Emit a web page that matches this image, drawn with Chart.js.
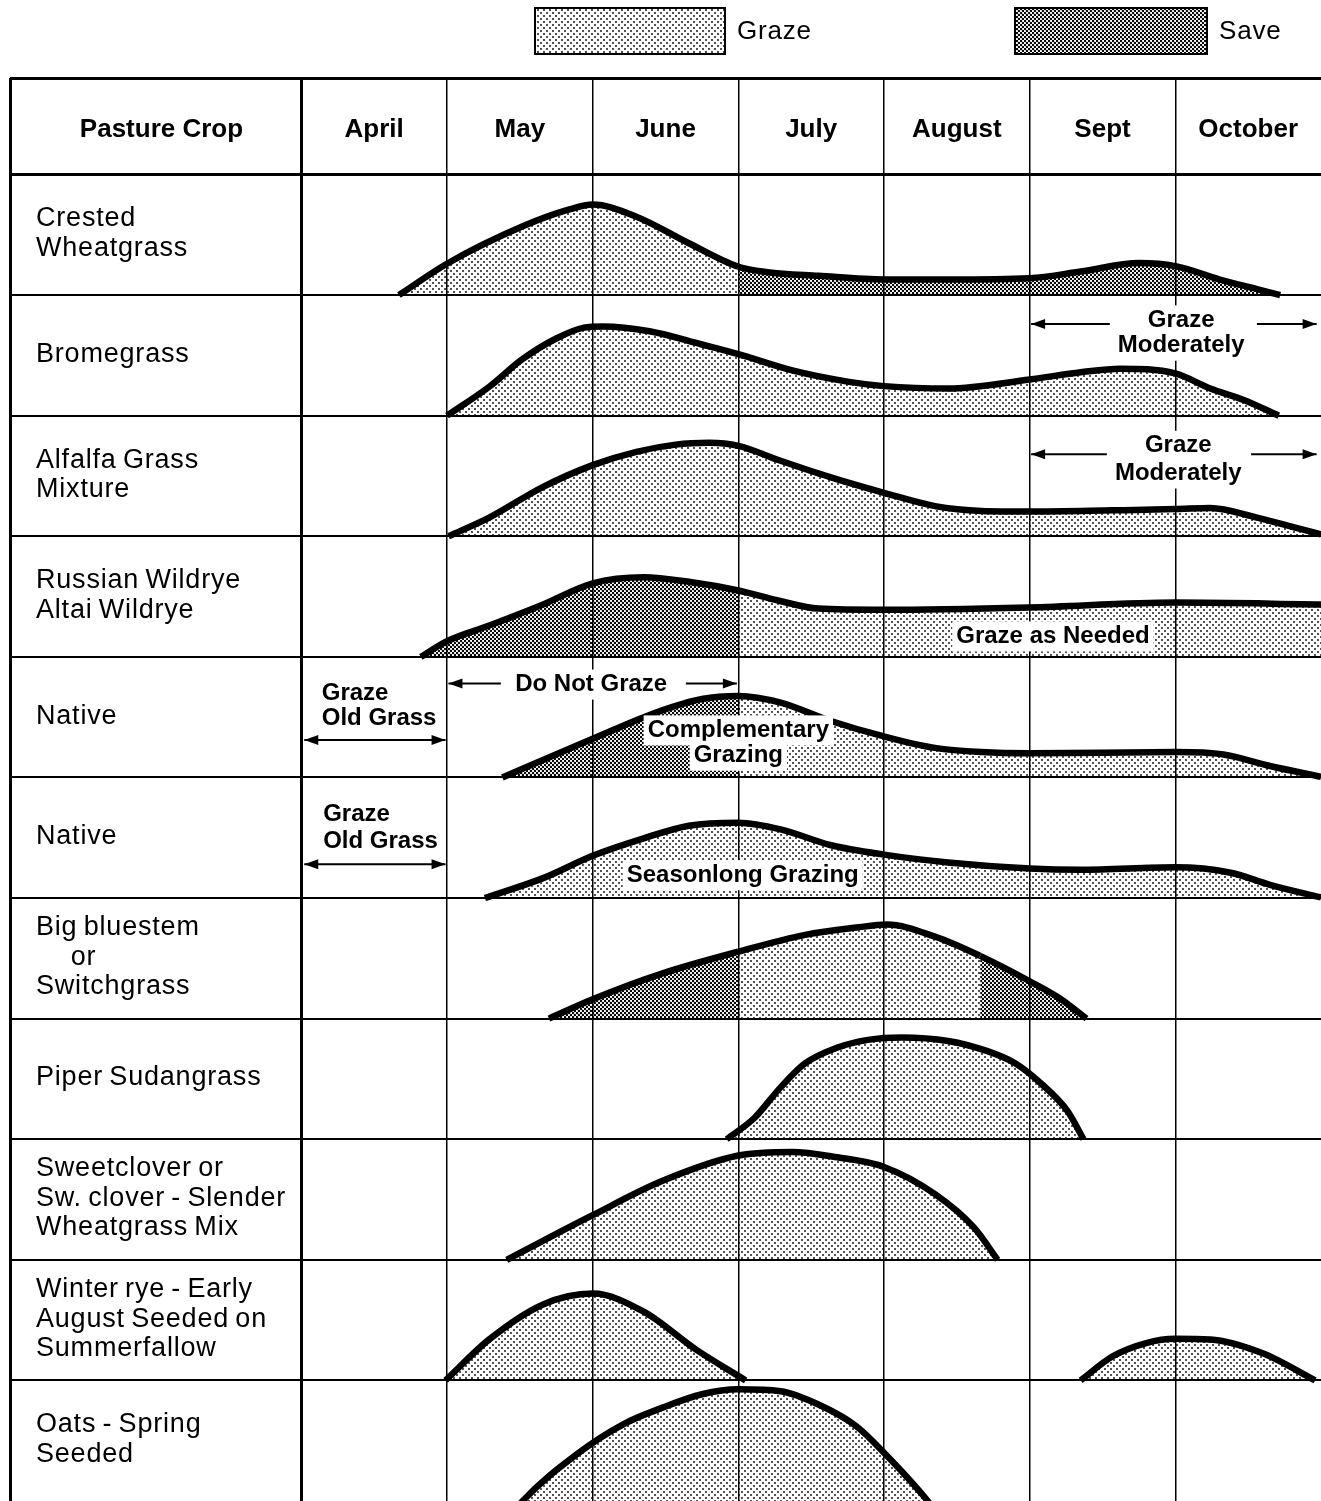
<!DOCTYPE html>
<html>
<head>
<meta charset="utf-8">
<script src="https://cdn.jsdelivr.net/npm/chart.js@4.4.0/dist/chart.umd.min.js"></script>
<style>
  html, body { margin: 0; padding: 0; background: #fff; }
  #wrap { width: 1321px; height: 1501px; }
</style>
</head>
<body>
<div id="wrap"><canvas id="grazingChart" width="1321" height="1501"></canvas></div>
<script>
const months = ["April", "May", "June", "July", "August", "Sept", "October"];

const cropNames = [
  ["Crested", "Wheatgrass"],
  ["Bromegrass"],
  ["Alfalfa Grass", "Mixture"],
  ["Russian Wildrye", "Altai Wildrye"],
  ["Native"],
  ["Native"],
  ["Big bluestem", "\u2002\u2002\u2009or", "Switchgrass"],
  ["Piper Sudangrass"],
  ["Sweetclover or", "Sw. clover - Slender", "Wheatgrass Mix"],
  ["Winter rye - Early", "August Seeded on", "Summerfallow"],
  ["Oats - Spring", "Seeded"],
];

// [month position (0 = start of April), height in row units]
const crested = [[0.67, 0], [1.0, 0.26], [1.52, 0.57], [1.84, 0.71], [2.0, 0.75], [2.3, 0.65], [2.66, 0.43], [3.0, 0.235], [3.2, 0.19], [3.55, 0.16], [4.0, 0.13], [4.44, 0.13], [5.0, 0.14], [5.35, 0.195], [5.75, 0.265], [6.0, 0.24], [6.33, 0.12], [6.56, 0.05], [6.72, 0]];
const brome = [[1.0, 0], [1.29, 0.24], [1.52, 0.47], [1.75, 0.64], [1.94, 0.73], [2.07, 0.74], [2.39, 0.7], [2.75, 0.59], [3.0, 0.51], [3.37, 0.375], [3.76, 0.28], [4.0, 0.245], [4.44, 0.225], [5.0, 0.3], [5.35, 0.36], [5.62, 0.39], [6.0, 0.35], [6.24, 0.225], [6.47, 0.13], [6.71, 0]];
const alfalfa = [[1.01, 0], [1.29, 0.155], [1.66, 0.41], [2.0, 0.59], [2.3, 0.7], [2.57, 0.76], [2.8, 0.775], [3.0, 0.75], [3.28, 0.63], [3.63, 0.49], [4.0, 0.36], [4.35, 0.25], [4.67, 0.21], [5.0, 0.205], [5.57, 0.215], [6.0, 0.225], [6.24, 0.235], [6.56, 0.155], [6.83, 0.07], [7.0, 0.015]];
const russian = [[0.82, 0], [1.0, 0.13], [1.29, 0.26], [1.66, 0.435], [2.0, 0.61], [2.35, 0.66], [2.67, 0.62], [3.0, 0.55], [3.28, 0.465], [3.55, 0.4], [4.0, 0.39], [5.0, 0.41], [6.0, 0.45], [7.0, 0.435]];
const nativeComplementary = [[1.38, 0], [2.0, 0.32], [2.44, 0.54], [2.75, 0.65], [3.0, 0.675], [3.29, 0.62], [3.63, 0.47], [4.0, 0.34], [4.35, 0.245], [4.67, 0.21], [5.0, 0.2], [6.0, 0.21], [6.33, 0.19], [6.65, 0.095], [7.0, 0.005]];
const nativeSeasonlong = [[1.26, 0], [1.66, 0.165], [2.0, 0.35], [2.35, 0.495], [2.66, 0.6], [3.0, 0.625], [3.29, 0.57], [3.63, 0.44], [4.0, 0.36], [4.44, 0.295], [5.0, 0.245], [5.35, 0.235], [6.0, 0.255], [6.38, 0.21], [6.65, 0.11], [7.0, 0.005]];
const bigBluestem = [[1.7, 0], [2.0, 0.16], [2.48, 0.375], [3.0, 0.555], [3.46, 0.695], [3.81, 0.755], [4.02, 0.78], [4.35, 0.68], [4.66, 0.52], [5.0, 0.31], [5.21, 0.165], [5.39, 0]];
const piper = [[2.92, 0], [3.11, 0.176], [3.29, 0.43], [3.46, 0.63], [3.68, 0.76], [3.89, 0.824], [4.12, 0.844], [4.44, 0.815], [4.71, 0.73], [4.9, 0.63], [5.08, 0.46], [5.26, 0.233], [5.37, 0]];
const sweetclover = [[1.41, 0], [2.0, 0.37], [2.48, 0.655], [3.0, 0.865], [3.37, 0.895], [3.68, 0.85], [4.0, 0.77], [4.35, 0.545], [4.62, 0.265], [4.78, 0]];
const winterRyeSpring = [[0.99, 0], [1.29, 0.34], [1.66, 0.63], [2.0, 0.72], [2.35, 0.57], [2.71, 0.255], [3.05, 0]];
const winterRyeFall = [[5.35, 0], [5.57, 0.2], [5.8, 0.31], [6.0, 0.345], [6.24, 0.34], [6.6, 0.225], [6.96, 0]];
// oats row runs off the bottom of the page
const oats = [[1.3, -0.35], [1.52, 0], [1.89, 0.387], [2.21, 0.636], [2.48, 0.774], [2.75, 0.885], [3.0, 0.926], [3.29, 0.91], [3.55, 0.8], [3.81, 0.62], [4.0, 0.4], [4.3, 0], [4.45, -0.25]];

// month ranges shaded as "Save"
const crestedSave = [[3.0, 7]];
const russianSave = [[0, 3.0]];
const nativeSave = [[0, 3.0]];
const bluestemSave = [[0, 3.0], [4.66, 7]];

const FONT = '"Liberation Sans", Arial, Helvetica, sans-serif';
const canvas = document.getElementById("grazingChart");
const mainCtx = canvas.getContext("2d");

function makePattern(size, dots, r) {
  const tile = document.createElement("canvas");
  tile.width = size;
  tile.height = size;
  const g = tile.getContext("2d");
  g.fillStyle = "#000";
  dots.forEach(([dx, dy]) => {
    g.beginPath();
    g.arc(dx, dy, r, 0, Math.PI * 2);
    g.fill();
  });
  return mainCtx.createPattern(tile, "repeat");
}

const grazePattern = makePattern(6, [[1, 1], [4, 4]], 0.9);
const savePattern = makePattern(4, [[1, 1], [3, 3]], 1.2);

const rowBase = (r) => cropNames.length - 1 - r;

function segStyle(saveValue, grazeValue) {
  return (c) => {
    const ds = c.chart.data.datasets[c.datasetIndex];
    const mid = (ds.data[c.p0DataIndex].x + ds.data[c.p1DataIndex].x) / 2;
    return ds.saveSpans.some(([a, b]) => mid > a && mid < b) ? saveValue : grazeValue;
  };
}

function curve(points, row, saveSpans) {
  const base = rowBase(row);
  return {
    data: points.map(([m, h]) => ({ x: m, y: base + h })),
    saveSpans: saveSpans || [],
    fill: { value: base },
    backgroundColor: grazePattern,
    borderColor: "#000",
    borderWidth: 6.5,
    borderJoinStyle: "round",
    cubicInterpolationMode: "monotone",
    pointRadius: 0,
    segment: {
      backgroundColor: segStyle(savePattern, grazePattern),
      borderDashOffset: segStyle(1, 0),
    },
  };
}

function text(ctx, str, px, py, align) {
  ctx.textAlign = align || "center";
  ctx.fillText(str, px, py);
}

function boxedNote(ctx, str, px, py, align) {
  const w = ctx.measureText(str).width;
  const left = align === "left" ? px : px - w / 2;
  ctx.fillStyle = "#fff";
  ctx.fillRect(left - 4, py - 15, w + 8, 30);
  ctx.fillStyle = "#000";
  text(ctx, str, px, py, align);
}

function arrow(ctx, x1, x2, py, both) {
  ctx.lineWidth = 2;
  ctx.strokeStyle = "#000";
  ctx.beginPath();
  ctx.moveTo(x1, py);
  ctx.lineTo(x2, py);
  ctx.stroke();
  const head = (tip, dir) => {
    ctx.beginPath();
    ctx.moveTo(tip, py);
    ctx.lineTo(tip - dir * 14, py - 5);
    ctx.lineTo(tip - dir * 14, py + 5);
    ctx.closePath();
    ctx.fill();
  };
  head(x2, Math.sign(x2 - x1));
  if (both) head(x1, Math.sign(x1 - x2));
}

const tablePlugin = {
  id: "tableText",
  afterDatasetsDraw(chart) {
    const { ctx } = chart;
    const xs = chart.scales.x;
    const ys = chart.scales.y;
    const X = (v) => xs.getPixelForValue(v);
    const Y = (row, f) => ys.getPixelForValue(rowBase(row) + f);
    ctx.save();
    ctx.fillStyle = "#000";
    ctx.textBaseline = "middle";

    // header row
    ctx.font = "bold 26px " + FONT;
    const hy = ys.getPixelForValue(11.37);
    text(ctx, "Pasture Crop", X(-0.96), hy);
    months.forEach((m, i) => text(ctx, m, X(i + 0.5), hy));

    // crop names
    ctx.font = "27px " + FONT;
    ctx.letterSpacing = "0.8px";
    ctx.wordSpacing = "-2px";
    cropNames.forEach((lines, r) => {
      const cy = Y(r, 0.5) - 1;
      const widest = Math.max(...lines.map((t) => ctx.measureText(t).width));
      const left = Math.min(X(-2) + 26, X(0) - 10 - widest);
      lines.forEach((t, i) => text(ctx, t, left, cy + (i - (lines.length - 1) / 2) * 29.5, "left"));
    });
    ctx.letterSpacing = "0px";
    ctx.wordSpacing = "0px";

    // notes inside the table
    ctx.font = "bold 24px " + FONT;
    boxedNote(ctx, "Graze", X(6.04), Y(1, 0.79));
    boxedNote(ctx, "Moderately", X(6.04), Y(1, 0.58));
    arrow(ctx, X(5.55), X(5.01), Y(1, 0.76));
    arrow(ctx, X(6.56), X(6.97), Y(1, 0.76));

    boxedNote(ctx, "Graze", X(6.02), Y(2, 0.75));
    boxedNote(ctx, "Moderately", X(6.02), Y(2, 0.52));
    arrow(ctx, X(5.53), X(5.01), Y(2, 0.68));
    arrow(ctx, X(6.52), X(6.97), Y(2, 0.68));

    boxedNote(ctx, "Graze as Needed", X(5.16), Y(3, 0.17));

    text(ctx, "Graze", X(0.14), Y(4, 0.7), "left");
    text(ctx, "Old Grass", X(0.14), Y(4, 0.49), "left");
    arrow(ctx, X(0.02), X(0.99), Y(4, 0.31), true);
    boxedNote(ctx, "Do Not Graze", X(1.99), Y(4, 0.77));
    arrow(ctx, X(1.37), X(1.01), Y(4, 0.78));
    arrow(ctx, X(2.64), X(2.99), Y(4, 0.78));
    boxedNote(ctx, "Complementary", X(3.0), Y(4, 0.39));
    boxedNote(ctx, "Grazing", X(3.0), Y(4, 0.18));

    text(ctx, "Graze", X(0.15), Y(5, 0.69), "left");
    text(ctx, "Old Grass", X(0.15), Y(5, 0.47), "left");
    arrow(ctx, X(0.02), X(0.99), Y(5, 0.28), true);
    boxedNote(ctx, "Seasonlong Grazing", X(3.03), Y(5, 0.19));

    // legend
    ctx.lineWidth = 2;
    ctx.strokeStyle = "#000";
    [[535, 190, grazePattern, "Graze"], [1015, 192, savePattern, "Save"]].forEach(([lx, lw, pat, label]) => {
      ctx.fillStyle = pat;
      ctx.fillRect(lx, 8, lw, 46);
      ctx.strokeRect(lx, 8, lw, 46);
      ctx.fillStyle = "#000";
      ctx.font = "26px " + FONT;
      ctx.letterSpacing = "0.8px";
      text(ctx, label, lx + lw + 12, 32, "left");
    });
    ctx.restore();
  },
};

const xLines = [-2, 0, 1, 2, 3, 4, 5, 6];
const yLines = [1, 2, 3, 4, 5, 6, 7, 8, 9, 10, 11, 11.8];

new Chart(canvas, {
  type: "line",
  data: {
    datasets: [
      curve(crested, 0, crestedSave),
      curve(brome, 1),
      curve(alfalfa, 2),
      curve(russian, 3, russianSave),
      curve(nativeComplementary, 4, nativeSave),
      curve(nativeSeasonlong, 5),
      curve(bigBluestem, 6, bluestemSave),
      curve(piper, 7),
      curve(sweetclover, 8),
      curve(winterRyeSpring, 9),
      curve(winterRyeFall, 9),
      curve(oats, 10),
    ],
  },
  options: {
    responsive: false,
    animation: false,
    events: [],
    layout: { padding: { top: 78, left: 10, right: 0, bottom: 0 } },
    plugins: { legend: { display: false }, tooltip: { enabled: false } },
    scales: {
      x: {
        type: "linear",
        min: -2,
        max: 7,
        afterBuildTicks: (axis) => { axis.ticks = xLines.map((v) => ({ value: v })); },
        ticks: { display: false, autoSkip: false },
        border: { display: false },
        grid: {
          color: "#000",
          drawTicks: false,
          lineWidth: (c) => (c.tick && c.tick.value <= 0 ? 3 : 1.5),
        },
      },
      y: {
        type: "linear",
        min: 0,
        max: 11.8,
        afterBuildTicks: (axis) => { axis.ticks = yLines.map((v) => ({ value: v })); },
        ticks: { display: false, autoSkip: false },
        border: { display: false },
        grid: {
          color: "#000",
          drawTicks: false,
          lineWidth: (c) => (c.tick && c.tick.value >= 11 ? 3 : 2),
        },
      },
    },
  },
  plugins: [tablePlugin],
});
</script>
</body>
</html>
